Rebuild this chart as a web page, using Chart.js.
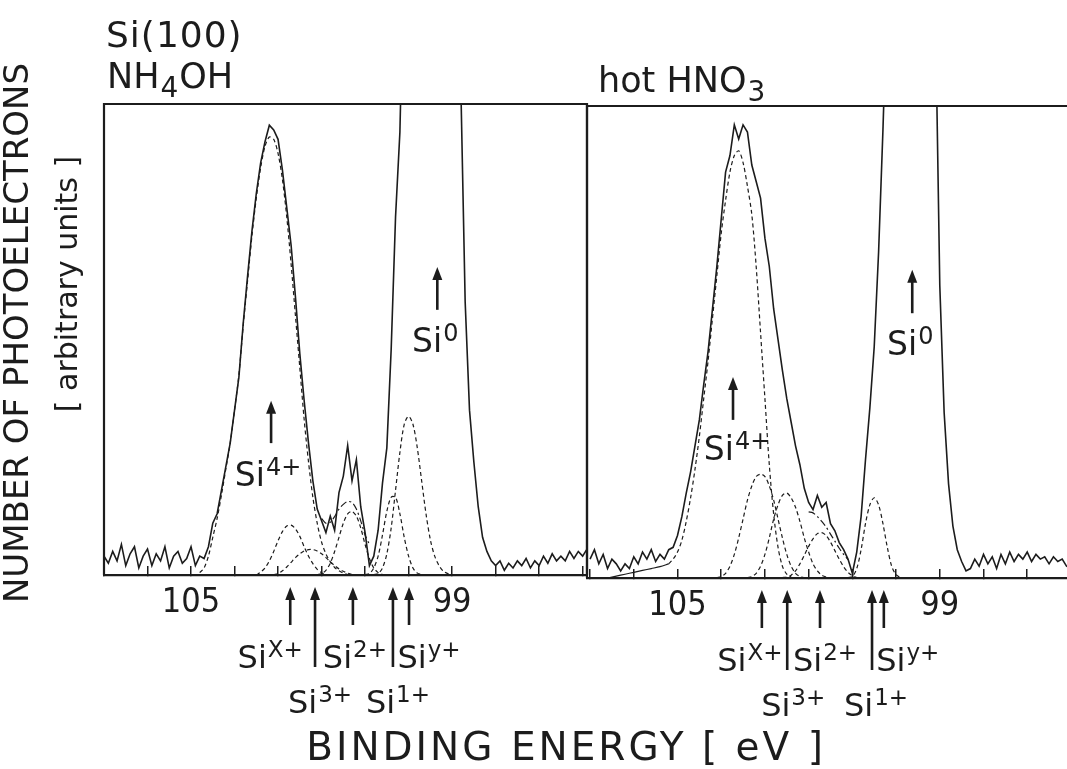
<!DOCTYPE html>
<html>
<head>
<meta charset="utf-8">
<script src="https://cdn.jsdelivr.net/npm/chart.js@4"></script>
<style>
  html, body { margin: 0; padding: 0; background: #fff; }
  #wrap { position: relative; width: 1067px; height: 769px; }
  canvas { position: absolute; left: 0; top: 0; }
</style>
</head>
<body>
<div id="wrap">
  <canvas id="nh" width="1067" height="769"></canvas>
  <canvas id="hno" width="1067" height="769"></canvas>
</div>
<script>
// binding energy grid of the measured spectra (eV)
const energyGrid = [
  107.0, 106.9, 106.8, 106.7, 106.6, 106.5, 106.4, 106.3, 106.2, 106.1,
  106.0, 105.9, 105.8, 105.7, 105.6, 105.5, 105.4, 105.3, 105.2, 105.1,
  105.0, 104.9, 104.8, 104.7, 104.6, 104.5, 104.4, 104.3, 104.2, 104.1,
  104.0, 103.9, 103.8, 103.7, 103.6, 103.5, 103.4, 103.3, 103.2, 103.1,
  103.0, 102.9, 102.8, 102.7, 102.6, 102.5, 102.4, 102.3, 102.2, 102.1,
  102.0, 101.9, 101.8, 101.7, 101.6, 101.5, 101.4, 101.3, 101.2, 101.1,
  101.0, 100.9, 100.8, 100.7, 100.6, 100.5, 100.4, 100.3, 100.2, 100.1,
  100.0, 99.9, 99.8, 99.7, 99.6, 99.5, 99.4, 99.3, 99.2, 99.1,
  99.0, 98.9, 98.8, 98.7, 98.6, 98.5, 98.4, 98.3, 98.2, 98.1,
  98.0, 97.9, 97.8, 97.7, 97.6, 97.5, 97.4, 97.3, 97.2, 97.1,
  97.0, 96.9, 96.8, 96.7, 96.6, 96.5, 96.4, 96.3, 96.2, 96.1,
  96.0, 95.9
];

// NH4OH spectrum (arbitrary units, 100 = top of frame)
const nhCounts = [
  4, 2.5, 5, 3, 6.5, 2, 4.5, 6, 1.5, 4,
  5.5, 2, 4.5, 3, 6, 1.5, 4, 5, 2.5, 3.5,
  6, 2, 4, 3.5, 6, 11, 13, 18, 23, 28,
  35, 42, 53.5, 63.5, 73, 81, 87.5, 92, 95.5, 94.5,
  92.5, 86, 78, 70, 59, 47, 37, 28, 20, 14,
  11.5, 9, 12.5, 9.5, 17.5, 21, 27.5, 20, 24.5, 14.5,
  9, 2, 4, 9.5, 19.5, 27, 48, 76, 94, 135,
  200, 260, 300, 330, 345, 345, 330, 300, 260, 210,
  165, 130, 104, 58, 35, 24, 14.5, 8, 5, 3,
  2, 3, 1, 2.5, 1.5, 3, 2, 3.5, 1.5, 3,
  2, 4, 2.5, 4.5, 3, 4, 3, 5, 3.5, 5,
  4, 5.5
];

// hot HNO3 spectrum
const hnoCounts = [
  4, 6, 3, 5, 2, 4, 3, 1.5, 3, 2,
  4.5, 3, 5.5, 4, 6, 3.5, 5, 4, 6, 6.5,
  9, 13, 18, 22.5, 28, 33.5, 41, 48, 57, 66,
  76, 86, 89.5, 96, 93, 96, 94.5, 87.5, 84, 80.5,
  72, 66, 57, 50.5, 44, 38, 33, 28, 24, 19,
  16, 14.5, 17.5, 15, 16, 11.5, 10, 7.5, 6, 4,
  1, 5.5, 13, 25, 36, 49, 69, 95, 125, 180,
  240, 290, 320, 335, 335, 320, 290, 240, 180, 120,
  62, 35, 20, 11, 6, 3.5, 1.5, 2, 4, 2.5,
  5, 3, 4.5, 2, 5, 3, 5.5, 3.5, 5, 4,
  5.5, 3.5, 5, 4, 4.5, 3, 4.5, 3.5, 4, 2.5,
  2, 2
];

// fitted components, [energy, intensity]
const nhSi4 = [[104.8,0.5],[104.7,1.5],[104.6,4],[104.5,8],[104.4,12],[104.3,17],[104.2,22.5],[104.1,28],[104.0,35],[103.9,42.5],[103.8,53],[103.7,62.5],[103.6,72],[103.5,80],[103.4,86.5],[103.3,91],[103.2,93],[103.1,92.5],[103.0,89.5],[102.9,84],[102.8,76],[102.7,66],[102.6,55],[102.5,44],[102.4,33],[102.3,24],[102.2,16.5],[102.1,11],[102.0,7],[101.9,4.5],[101.8,2.8],[101.7,1.6],[101.6,0.9],[101.5,0.4],[101.4,0.1]];
const nhSix = [[103.5,0],[103.4,0.6],[103.3,1.5],[103.2,3],[103.1,5],[103.0,7.3],[102.9,9.2],[102.8,10.4],[102.7,10.6],[102.6,9.8],[102.5,8.2],[102.4,6],[102.3,4],[102.2,2.4],[102.1,1.2],[102.0,0.5],[101.9,0.1]];
const nhSi3 = [[103.1,0.1],[103.0,0.3],[102.9,0.9],[102.8,1.7],[102.7,2.7],[102.6,3.7],[102.5,4.5],[102.4,5.1],[102.3,5.4],[102.2,5.4],[102.1,5.1],[102.0,4.5],[101.9,3.7],[101.8,2.8],[101.7,2],[101.6,1.3],[101.5,0.8],[101.4,0.4],[101.3,0.1]];
const nhSi2 = [[102.1,0.1],[102.0,0.3],[101.9,1],[101.8,2.5],[101.7,5],[101.6,8],[101.5,11],[101.4,13],[101.3,13.5],[101.2,12.5],[101.1,10],[101.0,6.5],[100.9,3.5],[100.8,1.5],[100.7,0.5],[100.6,0.1]];
const nhSi1 = [[101.0,0.1],[100.9,0.3],[100.8,1.5],[100.7,4],[100.6,8.5],[100.5,13.5],[100.4,16.5],[100.3,16.5],[100.2,13],[100.1,8],[100.0,4],[99.9,1.5],[99.8,0.4],[99.7,0.1]];
const nhSiy = [[100.8,0.1],[100.7,0.3],[100.6,1.5],[100.5,4.5],[100.4,10],[100.3,18],[100.2,26],[100.1,32],[100.0,33.7],[99.9,32],[99.8,27],[99.7,20],[99.6,13],[99.5,7.5],[99.4,4],[99.3,2],[99.2,0.8],[99.1,0.3],[99.0,0.1]];
const nhEnvelope = [[102.0,12],[101.9,11],[101.8,11.2],[101.7,12.4],[101.6,14],[101.5,15],[101.4,15.6],[101.3,15.4],[101.2,14],[101.1,11.5],[101.0,8.5],[100.9,6.5]];

const hnoSi4 = [[105.2,3],[105.1,4],[105.0,5.5],[104.9,8],[104.8,12],[104.7,17],[104.6,23],[104.5,30],[104.4,38],[104.3,46],[104.2,55],[104.1,64],[104.0,73],[103.9,80],[103.8,86],[103.7,89.5],[103.6,90.5],[103.5,88],[103.4,83],[103.3,77],[103.2,66],[103.1,52],[103.0,38],[102.9,24],[102.8,13.5],[102.7,6.5],[102.6,2.5],[102.5,0.8],[102.4,0.2]];
const hnoSix = [[104.1,0.1],[104.0,0.3],[103.9,1],[103.8,2.5],[103.7,5],[103.6,8.5],[103.5,12.5],[103.4,16.5],[103.3,19.5],[103.2,21.5],[103.1,22],[103.0,21.5],[102.9,19.5],[102.8,16.5],[102.7,12.5],[102.6,8.5],[102.5,5],[102.4,2.5],[102.3,1],[102.2,0.3],[102.1,0.1]];
const hnoSi3 = [[103.4,0.1],[103.3,0.3],[103.2,1],[103.1,2.5],[103.0,5],[102.9,8.5],[102.8,12.5],[102.7,15.5],[102.6,17.5],[102.5,18],[102.4,17],[102.3,15],[102.2,12],[102.1,8.5],[102.0,5.5],[101.9,3],[101.8,1.5],[101.7,0.6],[101.6,0.2]];
const hnoSi2 = [[102.6,0.1],[102.5,0.2],[102.4,0.6],[102.3,1.5],[102.2,3],[102.1,4.8],[102.0,6.7],[101.9,8.3],[101.8,9.4],[101.7,9.6],[101.6,9],[101.5,7.6],[101.4,5.8],[101.3,4],[101.2,2.4],[101.1,1.2],[101.0,0.5],[100.9,0.1]];
const hnoSi1 = [[101.1,0.1],[101.0,0.3],[100.9,2],[100.8,6],[100.7,11.5],[100.6,15.5],[100.5,17],[100.4,15.5],[100.3,11.5],[100.2,6.5],[100.1,2.5],[100.0,0.7],[99.9,0.1]];
const hnoEnvelope = [[102.0,14],[101.9,13.8],[101.8,13],[101.7,12],[101.6,10.8],[101.5,9.3],[101.4,7.8],[101.3,6.3],[101.2,5],[101.1,3.9]];
const hnoTail = [[106.6,0],[106.4,0.4],[106.2,0.8],[106.0,1.2],[105.8,1.6],[105.6,2],[105.4,2.4],[105.2,3]];

// axis ticks
const tickValues = [107, 106, 105, 104, 103, 102, 101, 100, 99, 98, 97, 96];
const tickLabels = [105, 99];

// oxidation-state markers under the axis
const markerSups = ['X+', '3+', '2+', '1+', 'y+'];
const nhMarkerEnergies = [102.72, 102.15, 101.28, 100.36, 99.99];
const hnoMarkerEnergies = [103.07, 102.49, 101.74, 100.55, 100.28];

const INK = '#1c1c1c';
const FONT = '"DejaVu Sans", "Liberation Sans", sans-serif';
const NARROW = '"Liberation Sans Narrow", "DejaVu Sans Condensed", "DejaVu Sans", sans-serif';

function toPoints(pairs) {
  return pairs.map(p => ({ x: p[0], y: p[1] }));
}

function drawSpecies(ctx, cx, baseline, sup, size, supSize) {
  ctx.font = size + 'px ' + FONT;
  const w1 = ctx.measureText('Si').width;
  ctx.font = supSize + 'px ' + FONT;
  const w2 = ctx.measureText(sup).width;
  const x0 = cx - (w1 + 1 + w2) / 2;
  ctx.font = size + 'px ' + FONT;
  ctx.fillText('Si', x0, baseline);
  ctx.font = supSize + 'px ' + FONT;
  ctx.fillText(sup, x0 + w1 + 1, baseline - 11);
}

function drawArrow(ctx, x, yTip, yTail) {
  ctx.lineWidth = 2.6;
  ctx.beginPath();
  ctx.moveTo(x, yTip + 8);
  ctx.lineTo(x, yTail);
  ctx.stroke();
  ctx.beginPath();
  ctx.moveTo(x, yTip);
  ctx.lineTo(x - 5, yTip + 13);
  ctx.lineTo(x + 5, yTip + 13);
  ctx.closePath();
  ctx.fill();
}

const panelDecor = {
  id: 'panelDecor',
  afterDraw(chart, args, opts) {
    const ctx = chart.ctx;
    const xs = chart.scales.x, ys = chart.scales.y, area = chart.chartArea;
    ctx.save();
    ctx.strokeStyle = INK;
    ctx.fillStyle = INK;
    ctx.textBaseline = 'alphabetic';
    ctx.textAlign = 'left';

    // frame
    ctx.lineWidth = 2.2;
    ctx.beginPath();
    ctx.moveTo(area.left, area.bottom);
    ctx.lineTo(area.left, area.top);
    ctx.lineTo(area.right, area.top);
    if (opts.closeRight) ctx.lineTo(area.right, area.bottom);
    ctx.stroke();

    // markers below the axis
    opts.markerEnergies.forEach((e, i) => {
      const x = xs.getPixelForValue(e);
      const long = i === 1 || i === 3;
      drawArrow(ctx, x, area.bottom + 12, area.bottom + (long ? 92 : 50));
      const base = area.bottom + (long ? 138 : 93);
      drawSpecies(ctx, x + opts.labelDx[i], base, markerSups[i], 32, 23);
    });

    // labels inside the panel
    opts.peaks.forEach(p => {
      const x = xs.getPixelForValue(p.energy);
      drawArrow(ctx, x, ys.getPixelForValue(p.tip), ys.getPixelForValue(p.tail));
      drawSpecies(ctx, x + p.dx, ys.getPixelForValue(p.text), p.sup, 33, 24);
    });

    // header of the panel
    const h = opts.header;
    ctx.font = '35px ' + FONT;
    ctx.fillText(h.main, h.x, h.y);
    let w = ctx.measureText(h.main).width;
    ctx.font = '28px ' + FONT;
    ctx.fillText(h.sub, h.x + w + 1, h.y + 9);
    w += ctx.measureText(h.sub).width + 2;
    ctx.font = '35px ' + FONT;
    ctx.fillText(h.after, h.x + w, h.y);

    if (opts.titles) {
      ctx.font = '36px ' + FONT;
      ctx.letterSpacing = '1px';
      ctx.fillText('Si(100)', 106, 47);
      ctx.font = '39px ' + FONT;
      ctx.letterSpacing = '3px';
      ctx.textAlign = 'center';
      ctx.fillText('BINDING ENERGY [ eV ]', 566, 760);
      ctx.letterSpacing = '0px';
      ctx.save();
      ctx.translate(28, 333);
      ctx.rotate(-Math.PI / 2);
      ctx.font = '34px ' + FONT;
      ctx.fillText('NUMBER OF PHOTOELECTRONS', 0, 0);
      ctx.restore();
      ctx.save();
      ctx.translate(77, 284);
      ctx.rotate(-Math.PI / 2);
      ctx.font = '30px ' + FONT;
      ctx.fillText('[ arbitrary units ]', 0, 0);
      ctx.restore();
    }
    ctx.restore();
  }
};

function makePanel(id, counts, components, envelope, extraSolid, range, box, decor) {
  const datasets = [{
    data: energyGrid.map((e, i) => ({ x: e, y: counts[i] })),
    borderColor: INK, borderWidth: 1.6, tension: 0
  }];
  components.forEach(c => datasets.push({
    data: toPoints(c), borderColor: INK, borderWidth: 1.2, borderDash: [4, 3]
  }));
  datasets.push({
    data: toPoints(envelope), borderColor: INK, borderWidth: 1.2, borderDash: [7, 3, 2, 3]
  });
  if (extraSolid) datasets.push({ data: toPoints(extraSolid), borderColor: INK, borderWidth: 1.2 });

  return new Chart(document.getElementById(id), {
    type: 'line',
    data: { datasets: datasets },
    options: {
      responsive: false,
      animation: false,
      events: [],
      elements: { point: { radius: 0 }, line: { tension: 0.3 } },
      layout: { padding: box },
      plugins: { legend: { display: false }, tooltip: { enabled: false }, panelDecor: decor },
      scales: {
        x: {
          type: 'linear', reverse: true, min: range[0], max: range[1],
          afterBuildTicks: (scale) => { scale.ticks = tickValues.filter(v => v >= range[0] && v <= range[1]).map(v => ({ value: v })); },
          afterFit: (scale) => { scale.height = 40; },
          grid: { drawOnChartArea: false, drawTicks: true, tickLength: -9, color: INK, lineWidth: 1.5 },
          border: { display: true, color: INK, width: 2.2 },
          ticks: {
            autoSkip: false, maxRotation: 0, padding: 17, color: INK,
            font: { family: NARROW, size: 34 },
            callback: (v) => tickLabels.includes(v) ? String(v) : ''
          }
        },
        y: { display: false, min: 0, max: 100 }
      }
    },
    plugins: [panelDecor]
  });
}

makePanel('nh', nhCounts, [nhSi4, nhSix, nhSi3, nhSi2, nhSi1, nhSiy], nhEnvelope, null,
  [95.9, 107.0], { left: 104, right: 480, top: 104, bottom: 154 },
  {
    closeRight: true, titles: true,
    markerEnergies: nhMarkerEnergies, labelDx: [-20, 5, 2, 5, 20],
    peaks: [
      { energy: 103.16, tip: 37, tail: 28, text: 19, sup: '4+', dx: -3 },
      { energy: 99.34, tip: 65.4, tail: 56.3, text: 47.3, sup: '0', dx: -2 }
    ],
    header: { main: 'NH', sub: '4', after: 'OH', x: 107, y: 88 }
  });

makePanel('hno', hnoCounts, [hnoSi4, hnoSix, hnoSi3, hnoSi2, hnoSi1], hnoEnvelope, hnoTail,
  [96.09, 107.07], { left: 587, right: 0, top: 106, bottom: 151 },
  {
    closeRight: false, titles: false,
    markerEnergies: hnoMarkerEnergies, labelDx: [-12, 6, 5, 4, 24],
    peaks: [
      { energy: 103.73, tip: 42.6, tail: 33.5, text: 25, sup: '4+', dx: 4 },
      { energy: 99.63, tip: 65.3, tail: 56.1, text: 47.2, sup: '0', dx: -2 }
    ],
    header: { main: 'hot HNO', sub: '3', after: '', x: 598, y: 92 }
  });
</script>
</body>
</html>
